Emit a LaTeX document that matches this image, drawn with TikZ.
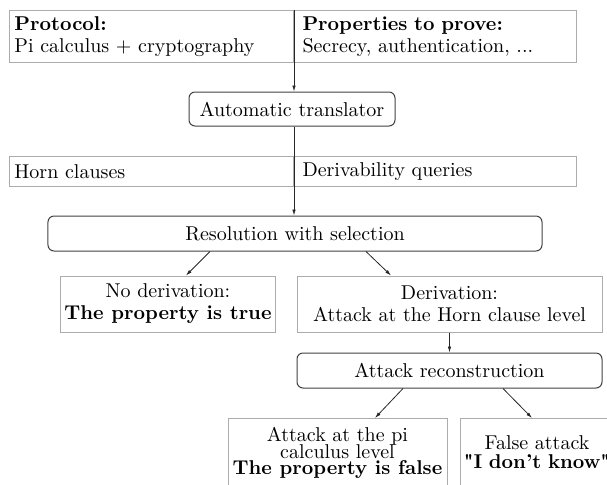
\documentclass[tikz,border=0pt]{standalone}
\usetikzlibrary{positioning, calc, arrows.meta}

\begin{document}
\begin{tikzpicture}[x=0.5pt, y=-0.5pt]
	\tikzstyle{cell}=[draw=gray!65, line width=0.5pt, anchor=north west, align=left, inner xsep=2.5pt, inner ysep=2pt, font=\fontsize{10}{11}\selectfont];
	\tikzstyle{result}=[draw=gray!65, line width=0.5pt, align=center, inner xsep=2pt, inner ysep=2pt, font=\fontsize{10}{11}\selectfont];
	\tikzstyle{phase}=[draw=black!75, rounded corners=3pt, line width=0.5pt, inner sep=0pt];
	\tikzstyle{flow}=[-{Latex[length=3pt, width=1.8pt]}, line width=0.4pt, black!85];

   \useasboundingbox (0, 0) rectangle (607, 484);

   % input and output of the translator
   \node[cell, text width=137pt, minimum height=26pt] (proto) at (9, 10) {\textbf{Protocol:}\\Pi calculus + cryptography};
   \node[cell, inner xsep=4.5pt, text width=132.5pt, minimum height=26pt] (props) at (293, 10) {\textbf{Properties to prove:}\\Secrecy, authentication, ...};
   \node[phase, minimum width=103pt, minimum height=17pt] (trans) at (292, 109) {Automatic translator};
   \node[cell, text width=137pt, minimum height=15pt] (horn) at (9, 156) {Horn clauses};
   \node[cell, inner xsep=4.5pt, text width=132.5pt, minimum height=15pt] (query) at (293, 156) {Derivability queries};

   % resolution and its outcomes
   \node[phase, minimum width=247pt, minimum height=17.5pt] (res) at (295, 233.5) {Resolution with selection};
   \node[result, minimum width=107pt, minimum height=28pt] (noder) at (168, 304) {No derivation:\\\textbf{The property is true}};
   \node[result, minimum width=152.5pt, minimum height=28pt] (der) at (449.5, 304) {Derivation:\\Attack at the Horn clause level};
   \node[phase, minimum width=152.5pt, minimum height=17.5pt] (recon) at (449.5, 370.5) {Attack reconstruction};
   \node[result, anchor=north, minimum width=109.5pt, minimum height=34pt] (piatt) at (337.5, 418) {Attack at the pi\\[-2.5pt]calculus level\\[-3pt]\textbf{The property is false}};
   \node[result, anchor=north, inner xsep=1pt, text width=75pt, minimum height=34pt] (fake) at (537, 418) {False attack\\[-1.5pt]\textbf{\textquotedbl I don't know\textquotedbl}};

   \draw (proto.north east) edge[flow] (proto.north east |- trans.north);
   \draw (horn.north east |- trans.south) edge[flow] (horn.north east |- res.north);
   \draw ($(res.south)+(-85, 0)$) edge[flow] ($(noder.north)+(18, 0)$);
   \draw ($(res.south)+(71, 0)$) edge[flow] ($(der.north)+(-58.5, 0)$);
   \draw (der.south) edge[flow] (recon.north);
   \draw ($(recon.south)+(-46.5, 0)$) edge[flow] ($(piatt.north)+(37.5, 0)$);
   \draw ($(recon.south)+(53.5, 0)$) edge[flow] ($(fake.north)+(-5, 0)$);

\end{tikzpicture}
\end{document}
